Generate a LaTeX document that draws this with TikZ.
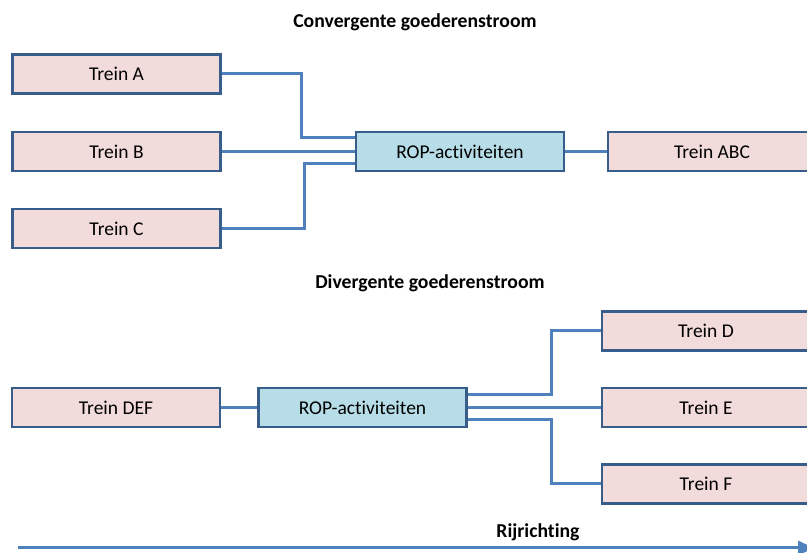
\documentclass[tikz,border=0pt]{standalone}
\usepackage{fontspec}
\setmainfont[RawFeature={-liga}]{Carlito}
\usetikzlibrary{arrows.meta}
\definecolor{boxline}{HTML}{385D8A}
\definecolor{trainfill}{HTML}{F2DCDB}
\definecolor{ropfill}{HTML}{B7DEE8}
\definecolor{connline}{HTML}{4F81BD}
\tikzset{
  train/.style={draw=boxline, fill=trainfill, line width=2.7pt, minimum width=208pt, minimum height=39pt, inner sep=0pt, font=\fontsize{19.5}{23}\selectfont},
  rop/.style={train, fill=ropfill},
  conn/.style={draw=connline, line width=3pt},
  heading/.style={font=\fontsize{19.7}{23}\selectfont\bfseries, inner sep=0pt}
}
\begin{document}
\begin{tikzpicture}[x=1pt,y=-1pt]
\useasboundingbox (0,0) rectangle (807,553);
\clip (0,0) rectangle (807,553);
\node[heading] (t1) at (415,22) {Convergente goederenstroom};
\node[heading] (t2) at (430,283) {Divergente goederenstroom};
\node[heading] (t3) at (538,532) {Rijrichting};
% convergent
\node[train] (A) at (116.5,74) {Trein A};
\node[train] (B) at (116.5,151.5) {Trein B};
\node[train] (C) at (116.5,228.5) {Trein C};
\node[rop] (R1) at (460,151.5) {ROP-activiteiten};
\node[train] (ABC) at (712,151.5) {Trein ABC};
\draw[conn] (A.east) -- ++(80,0) |- ([yshift=13.5pt]R1.west);
\draw[conn] (B.east) -- (R1.west);
\draw[conn] (C.east) -- ++(83,0) |- ([yshift=-12.5pt]R1.west);
\draw[conn] (R1.east) -- (ABC.west);
% divergent
\node[train] (DEF) at (116,407.5) {Trein DEF};
\node[rop] (R2) at (362.5,407.5) {ROP-activiteiten};
\node[train] (D) at (706,331) {Trein D};
\node[train] (E) at (706,407.5) {Trein E};
\node[train] (F) at (706,484) {Trein F};
\draw[conn] (DEF.east) -- (R2.west);
\draw[conn] ([yshift=12.5pt]R2.east) -- ++(84,0) |- (D.west);
\draw[conn] (R2.east) -- (E.west);
\draw[conn] ([yshift=-12.5pt]R2.east) -- ++(84,0) |- (F.west);
% direction arrow
\coordinate (s) at (18,548);
\coordinate (e) at (814,548);
\draw[conn, -{Triangle[length=16pt,width=14pt]}] (s) -- (e);
\end{tikzpicture}
\end{document}
